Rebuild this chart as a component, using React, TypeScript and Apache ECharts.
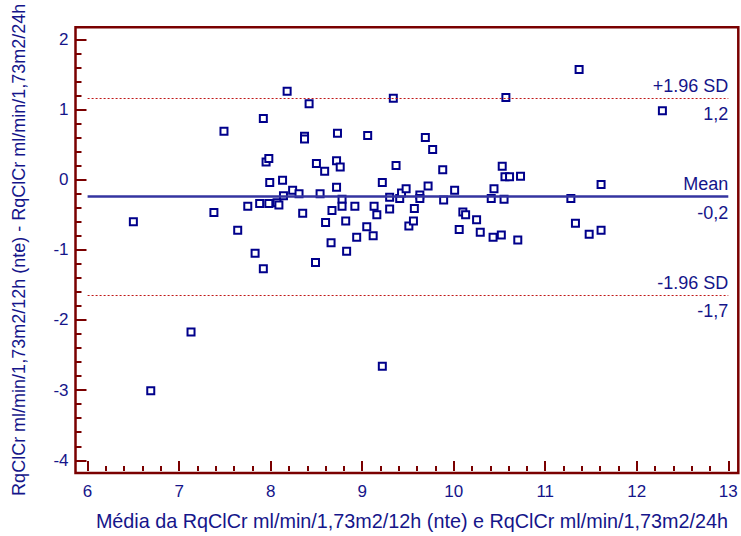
import React, { useEffect, useRef } from "react";
import * as echarts from "echarts";

// Mean of the two methods (x) and their difference (y), one entry per subject
const meanValues: number[] = [
  6.50, 6.69, 7.13, 7.38, 7.49, 7.64, 7.75, 7.83, 7.92, 7.92,
  7.88, 7.95, 7.98, 7.99, 7.98, 8.07, 8.09, 8.13, 8.18, 8.24,
  8.14, 8.31, 8.42, 8.37, 8.37, 8.35, 8.50, 8.54, 8.59, 8.49,
  8.60, 8.66, 8.67, 8.72, 8.76, 8.72, 8.73, 8.78, 8.78, 8.82,
  8.83, 8.92, 8.94, 9.06, 9.05, 9.12, 9.13, 9.16, 9.22, 9.22,
  9.30, 9.30, 9.34, 9.37, 9.41, 9.43, 9.48, 9.51, 9.57, 9.56,
  9.63, 9.63, 9.69, 9.72, 9.77, 9.88, 9.89, 10.01, 10.06, 10.10,
  10.13, 10.25, 10.29, 10.41, 10.43, 10.44, 10.52, 10.53, 10.56, 10.61,
  10.55, 10.57, 10.70, 10.73, 11.28, 11.33, 11.37, 11.48, 11.61, 11.61,
  12.28,
];
const diffValues: number[] = [
  -0.60, -3.01, -2.17, -0.47, 0.69, -0.72, -0.38, -1.05, -1.27, 0.87,
  -0.34, 0.25, 0.30, -0.04, -0.34, -0.33, -0.36, -0.01, 1.26, -0.15,
  -0.23, -0.20, 1.08, 0.62, 0.58, -0.48, 0.23, -0.20, 0.12, -1.18,
  -0.61, -0.90, -0.44, 0.27, 0.18, -0.11, 0.66, -0.28, -0.38, -0.59,
  -1.02, -0.38, -0.82, 0.63, -0.67, -0.80, -0.38, -0.50, -0.04, -2.66,
  -0.25, -0.42, 1.16, 0.20, -0.27, -0.19, -0.13, -0.66, -0.41, -0.59,
  -0.22, -0.27, 0.60, -0.09, 0.43, 0.14, -0.29, -0.15, -0.71, -0.46,
  -0.50, -0.57, -0.75, -0.27, -0.82, -0.13, -0.79, 0.19, 0.04, 0.04,
  -0.28, 1.17, -0.86, 0.05, -0.27, -0.62, 1.57, -0.78, -0.72, -0.07,
  0.98,
];

// Bland-Altman reference lines
const meanDiff = -0.245;
const upperLimit = 1.164;
const lowerLimit = -1.645;
const lineTitles = ["+1.96 SD", "Mean", "-1.96 SD"];
const lineValueLabels = ["1,2", "-0,2", "-1,7"];

// Axes
const xMin = 6;
const xMax = 13;
const yMin = -4;
const yMax = 2;
const xAxisTitle = "Média da RqClCr ml/min/1,73m2/12h (nte) e RqClCr ml/min/1,73m2/24h";
const yAxisTitle = "RqClCr ml/min/1,73m2/12h (nte) - RqClCr ml/min/1,73m2/24h";

const FONT = "'Liberation Sans', Arial, sans-serif";
const NAVY = "#15158a";
const FRAME = "#7a0000";

export default function App() {
  const ref = useRef<HTMLDivElement>(null);

  useEffect(() => {
    if (!ref.current) return;
    const chart = echarts.init(ref.current, undefined, { renderer: "svg" });

    const points = meanValues.map((x, i) => [x, diffValues[i]]);

    const refLevels = [upperLimit, meanDiff, lowerLimit];
    const titleMarks: any[] = [];
    const valueMarks: any[] = [];
    refLevels.forEach((v, i) => {
      const isMean = i === 1;
      titleMarks.push({
        yAxis: v,
        lineStyle: isMean
          ? { color: "#3434a0", width: 2.5, type: "solid" }
          : { color: "#c01818", width: 1, type: [2, 2] },
        label: {
          show: true,
          position: "insideEndTop",
          formatter: lineTitles[i],
          distance: [0, 3],
          color: NAVY,
          fontSize: 18,
          fontFamily: FONT,
        },
      });
      valueMarks.push({
        coord: [xMax, v],
        symbol: "circle",
        symbolSize: 0,
        itemStyle: { color: "rgba(0,0,0,0)" },
        label: {
          show: true,
          position: "inside",
          formatter: lineValueLabels[i],
          align: "right",
          verticalAlign: "top",
          offset: [0, 7],
          color: NAVY,
          fontSize: 18,
          fontFamily: FONT,
        },
      });
    });

    const option: any = {
      animation: false,
      backgroundColor: "#ffffff",
      grid: { left: 87.6, right: 12.7, top: 39.3, bottom: 73.7, containLabel: false },
      xAxis: {
        type: "value",
        min: xMin,
        max: xMax,
        interval: 1,
        offset: 10.7,
        name: xAxisTitle,
        nameLocation: "middle",
        nameGap: 40,
        nameTextStyle: { color: NAVY, fontSize: 19.8, fontFamily: FONT, padding: [0, 0, 0, 8] },
        axisLine: { show: false, onZero: false },
        axisTick: { show: true, inside: true, length: 10, lineStyle: { color: FRAME, width: 2 } },
        minorTick: { show: true, splitNumber: 5, length: 5, lineStyle: { color: FRAME, width: 2 } },
        axisLabel: { color: NAVY, fontSize: 17, fontFamily: FONT, margin: 12 },
        splitLine: { show: false },
      },
      yAxis: {
        type: "value",
        min: yMin,
        max: yMax,
        interval: 1,
        offset: 12.1,
        name: yAxisTitle,
        nameLocation: "middle",
        nameGap: 48,
        nameTextStyle: { color: NAVY, fontSize: 18, fontFamily: FONT },
        axisLine: { show: false, onZero: false },
        axisTick: { show: true, inside: true, length: 11, lineStyle: { color: FRAME, width: 2 } },
        minorTick: { show: true, splitNumber: 5, length: 6, lineStyle: { color: FRAME, width: 2 } },
        axisLabel: { color: NAVY, fontSize: 17, fontFamily: FONT, margin: 7 },
        splitLine: { show: false },
      },
      graphic: [
        {
          type: "rect",
          silent: true,
          z: 0,
          shape: { x: 75.5, y: 27.3, width: 662.8, height: 445.7 },
          style: { fill: "none", stroke: FRAME, lineWidth: 2.5 },
        },
      ],
      series: [
        {
          type: "scatter",
          data: points,
          symbol: "rect",
          symbolSize: 7,
          z: 2,
          itemStyle: { color: "#ffffff", borderColor: "#00008b", borderWidth: 2, opacity: 1 },
        },
        {
          type: "line",
          data: [],
          z: 3,
          markLine: {
            silent: true,
            symbol: "none",
            animation: false,
            data: titleMarks,
          },
          markPoint: {
            silent: true,
            animation: false,
            data: valueMarks,
          },
        },
      ],
    };

    chart.setOption(option);
    return () => chart.dispose();
  }, []);

  return (
    <div
      ref={ref}
      style={{ position: "absolute", left: 0, top: 0, width: 741, height: 536 }}
    />
  );
}
